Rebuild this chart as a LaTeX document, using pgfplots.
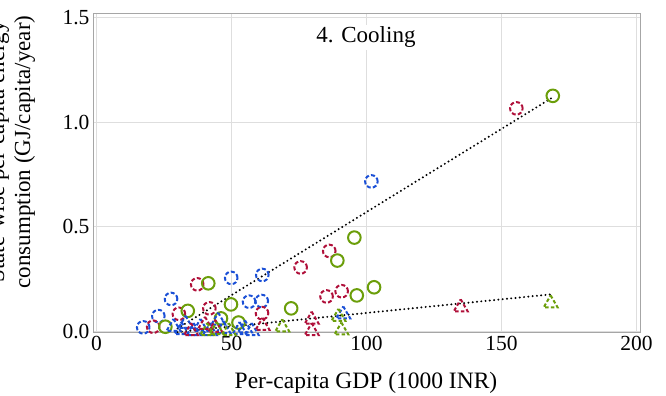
\documentclass[border=0pt]{standalone}
\usepackage{pgfplots}
\pgfplotsset{compat=1.18}
\usepackage{fontspec}
\setmainfont{Liberation Serif}
\definecolor{cblue}{HTML}{1A4FD6}
\definecolor{cred}{HTML}{B0103A}
\definecolor{cgreen}{HTML}{6B9E0A}
\begin{document}
\begin{tikzpicture}
\useasboundingbox (0,0) rectangle (666bp,396bp);
\begin{axis}[
  at={(93bp,63bp)}, anchor=south west,
  scale only axis, width=547bp, height=319bp,
  xmin=-1.3, xmax=201.3, ymin=-0.009, ymax=1.519,
  xtick={0,50,100,150,200}, ytick={0,0.5,1,1.5},
  yticklabel style={/pgf/number format/.cd, fixed, fixed zerofill, precision=1},
  /pgf/number format/assume math mode=true,
  tick label style={font=\fontsize{21.5bp}{26bp}\selectfont},
  major tick length=0pt,
  grid=major, major grid style={draw=black!13, line width=1bp},
  axis line style={draw=black!35, line width=1bp},
  clip=false,
  every axis plot/.append style={only marks},
  cmark/.style={mark=o, mark size=6.3bp, mark options={line width=2bp, solid}},
  dmark/.style={mark=o, mark size=6.3bp, mark options={line width=2bp, dash pattern=on 4bp off 2.2bp}},
  tmark/.style={mark=triangle, mark size=8bp, mark options={line width=2bp, dash pattern=on 3.5bp off 2.2bp}},
]
% blue dashed circles
\addplot[cblue, dmark] coordinates {(17.3,0.018) (22.9,0.072) (27.6,0.154) (49.9,0.255) (61.4,0.269) (56.5,0.141) (61.2,0.144) (101.8,0.717)};
% red dashed circles
\addplot[cred, dmark] coordinates {(21.0,0.021) (30.5,0.083) (37.3,0.224) (41.8,0.109) (61.3,0.086) (75.6,0.305) (85.2,0.166) (86.2,0.384) (90.8,0.191) (155.5,1.067)};
% green circles
\addplot[cgreen, cmark] coordinates {(25.5,0.021) (33.8,0.097) (41.4,0.229) (46.1,0.061) (49.8,0.128) (52.6,0.041) (72.1,0.109) (89.2,0.338) (95.5,0.448) (96.4,0.171) (102.8,0.210) (169.0,1.127)};
% blue dashed triangles
\addplot[cblue, tmark] coordinates {(28.5,0.020) (31.5,0.005) (33.0,0.035) (36.0,0.000) (38.5,0.020) (42.0,0.000) (45.1,0.050) (47.0,0.010) (53.0,0.005) (55.0,0.013) (57.5,0.000) (91.4,0.080)};
% red dashed triangles
\addplot[cred, tmark] coordinates {(35.0,0.000) (40.2,0.030) (44.0,0.015) (61.5,0.025) (79.7,0.055) (79.7,0.000) (134.9,0.114)};
% green dashed triangles
\addplot[cgreen, tmark] coordinates {(41.0,0.000) (44.5,0.005) (49.0,0.000) (68.8,0.018) (89.6,0.068) (90.7,0.003) (168.2,0.133)};
% trend lines
\addplot[black, no marks, sharp plot, line width=2.2bp, line cap=round, dash pattern=on 0bp off 4.3bp] coordinates {(30,0.013) (169,1.12)};
\addplot[black, no marks, sharp plot, line width=2.2bp, line cap=round, dash pattern=on 0bp off 4.3bp] coordinates {(30,-0.004) (169,0.177)};
\end{axis}
\node[fill=white, inner sep=2bp, anchor=base, font=\fontsize{23bp}{27bp}\selectfont] at (366bp,353.3bp) {4. Cooling};
\node[anchor=base, font=\fontsize{23.5bp}{27bp}\selectfont] at (366bp,8bp) {Per-capita GDP (1000 INR)};
\node[rotate=90, align=center, font=\fontsize{23bp}{26bp}\selectfont] at (12bp,244bp) {State-wise per-capita energy\\consumption (GJ/capita/year)};
\end{tikzpicture}
\end{document}
